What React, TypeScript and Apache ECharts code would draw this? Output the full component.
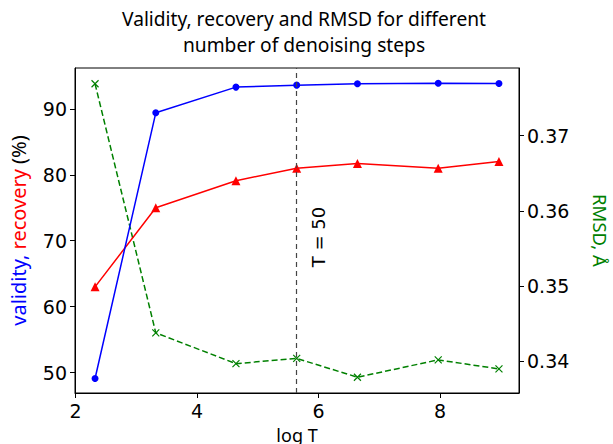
import React, { useEffect, useRef } from "react";
import * as echarts from "echarts";

const logT = [2.32, 3.32, 4.64, 5.64, 6.64, 7.97, 8.97];
const validity = [49.1, 89.4, 93.3, 93.6, 93.8, 93.9, 93.85];
const recovery = [63.0, 75.0, 79.1, 81.0, 81.7, 81.0, 82.0];
const rmsd = [0.3769, 0.3438, 0.3397, 0.3404, 0.3379, 0.3402, 0.339];
const xTicks = [2, 4, 6, 8];
const leftTicks = [50, 60, 70, 80, 90];
const rightTicks = [0.34, 0.35, 0.36, 0.37];
const chosenT = 5.644;

const tickFont = "DejaVu Sans";
const labelFont = "Noto Sans";

export default function App() {
  const ref = useRef<HTMLDivElement>(null);
  useEffect(() => {
    if (!ref.current) return;
    const chart = echarts.init(ref.current, null, { renderer: "svg" });
    const pair = (ys: number[]) => logT.map((x, i) => [x, ys[i]]);
    const axisCommon = {
      axisLine: { show: true, onZero: false, lineStyle: { color: "#000", width: 1 } },
      axisTick: { show: true, inside: false, length: 5, lineStyle: { color: "#000" } },
      splitLine: { show: false },
    };
    chart.setOption({
      animation: false,
      backgroundColor: "#fff",
      title: {
        text: "Validity, recovery and RMSD for different\nnumber of denoising steps",
        left: 299,
        top: 0,
        textAlign: "center",
        textStyle: { fontFamily: labelFont, fontSize: 19.2, fontWeight: "normal", color: "#000", lineHeight: 26 },
      },
      grid: {
        left: 75,
        right: 94,
        top: 68,
        bottom: 51,
        show: true,
        borderColor: "#000",
        borderWidth: 1,
        containLabel: false,
        outerBoundsMode: "none",
      },
      xAxis: {
        type: "value",
        min: 1.99,
        max: 9.3,
        ...axisCommon,
        axisTick: { ...axisCommon.axisTick, customValues: xTicks },
        axisLabel: { customValues: xTicks, fontFamily: tickFont, fontSize: 19, color: "#000", margin: 8 },
        name: "log T",
        nameLocation: "middle",
        nameGap: 31,
        nameTextStyle: { fontFamily: labelFont, fontSize: 18, color: "#000", lineHeight: 20 },
      },
      yAxis: [
        {
          type: "value",
          min: 46.9,
          max: 96.2,
          position: "left",
          ...axisCommon,
          axisTick: { ...axisCommon.axisTick, customValues: leftTicks },
          axisLabel: { customValues: leftTicks, fontFamily: tickFont, fontSize: 19, color: "#000", margin: 8 },
          name: "{b|validity,} {r|recovery} {k|(%)}",
          nameLocation: "middle",
          nameRotate: 90,
          nameGap: 47,
          nameTextStyle: {
            fontFamily: labelFont,
            fontSize: 20,
            color: "#000",
            rich: {
              b: { color: "#0000ff", fontFamily: labelFont, fontSize: 20 },
              r: { color: "#ff0000", fontFamily: labelFont, fontSize: 20 },
              k: { color: "#000", fontFamily: labelFont, fontSize: 20 },
            },
          },
        },
        {
          type: "value",
          min: 0.3358,
          max: 0.379,
          position: "right",
          ...axisCommon,
          axisTick: { ...axisCommon.axisTick, customValues: rightTicks },
          axisLabel: { customValues: rightTicks, fontFamily: tickFont, fontSize: 19, color: "#000", margin: 8 },
          name: "RMSD, Å",
          nameLocation: "middle",
          nameRotate: -90,
          nameGap: 72,
          nameTextStyle: { fontFamily: labelFont, fontSize: 18.5, color: "#008000" },
        },
      ],
      series: [
        {
          type: "line",
          data: pair(rmsd),
          yAxisIndex: 1,
          symbol: "path://M0,0L10,10M10,0L0,10",
          symbolSize: 7,
          lineStyle: { color: "#008000", width: 1.5, type: [6, 3] },
          itemStyle: { color: "rgba(0,0,0,0)", borderColor: "#008000", borderWidth: 1.2 },
          z: 2,
        },
        {
          type: "line",
          data: pair(recovery),
          symbol: "triangle",
          symbolSize: 9,
          lineStyle: { color: "#ff0000", width: 1.5 },
          itemStyle: { color: "#ff0000" },
          z: 3,
        },
        {
          type: "line",
          data: pair(validity),
          symbol: "circle",
          symbolSize: 7,
          lineStyle: { color: "#0000ff", width: 1.5 },
          itemStyle: { color: "#0000ff" },
          z: 4,
          markLine: {
            silent: true,
            symbol: "none",
            label: { show: false },
            lineStyle: { color: "#444", type: [5, 4], width: 1.2 },
            data: [{ xAxis: chosenT }],
          },
        },
      ],
      graphic: [
        {
          type: "text",
          x: 318,
          y: 237,
          rotation: Math.PI / 2,
          style: {
            text: "T = 50",
            fontFamily: tickFont,
            fontSize: 18,
            fill: "#000",
            align: "center",
            verticalAlign: "middle",
          },
        },
      ],
    });
    return () => chart.dispose();
  }, []);
  return <div ref={ref} style={{ position: "fixed", left: 0, top: 0, width: 613, height: 444 }} />;
}
